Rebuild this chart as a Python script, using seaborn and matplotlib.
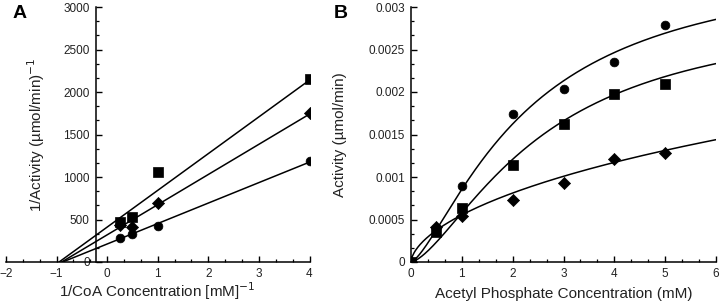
import numpy as np
import pandas as pd
import matplotlib
matplotlib.use("Agg")
import matplotlib.pyplot as plt
from matplotlib.ticker import AutoMinorLocator, FixedLocator, FixedFormatter
import seaborn as sns

sns.set_theme(style="ticks")
plt.rcParams['font.family'] = ['Liberation Sans', 'DejaVu Sans']

# ---------------- Panel A data (double reciprocal) ----------------
a_x = [0.25, 0.5, 1, 4]
a_circle = [286, 325, 425, 1190]
a_diamond = [430, 413, 690, 1755]
a_square = [465, 525, 1058, 2155]
# fitted lines: x-intercept and value at x = 4
a_line_xint = [-0.88, -0.90, -0.95]      # circle, diamond, square
a_line_end = [1175, 1740, 2140]
a_xticks = [-2, -1, 0, 1, 2, 3, 4]
a_yticks = [0, 500, 1000, 1500, 2000, 2500, 3000]

# ---------------- Panel B data (activity vs acetyl phosphate) ----------------
b_x = [0, 0.5, 1, 2, 3, 4, 5]
b_circle = [0, 0.00040, 0.00089, 0.00174, 0.00204, 0.00235, 0.00279]
b_square = [0, 0.00035, 0.00064, 0.00114, 0.00162, 0.00198, 0.00209]
b_diamond = [0, 0.00041, 0.00054, 0.00073, 0.00093, 0.00121, 0.00128]
# Hill fit parameters (Vmax, K, n): circle, square, diamond
b_vmax = [0.0036, 0.0030, 0.0084]
b_k = [2.3, 2.6, 83.0]
b_n = [1.4, 1.5, 0.6]
b_xticks = [0, 1, 2, 3, 4, 5, 6]
b_yticks = [0, 0.0005, 0.001, 0.0015, 0.002, 0.0025, 0.003]
b_yticklabels = ["0", "0.0005", "0.001", "0.0015", "0.002", "0.0025", "0.003"]

markers = {"circle": "o", "square": "s", "diamond": "D"}
sizes = {"circle": 40, "square": 42, "diamond": 38}
txt = "#222222"

fig = plt.figure(figsize=(7.2, 3.04), dpi=100)
W, H = 720, 304
bottom_px, top_px = 262, 7
axA = fig.add_axes([6 / W, (H - bottom_px) / H, 303.5 / W, (bottom_px - top_px) / H])
axB = fig.add_axes([411 / W, (H - bottom_px) / H, 305 / W, (bottom_px - top_px) / H])

# ---- Panel A ----
dfA = pd.DataFrame({
    "x": a_x * 3,
    "y": a_circle + a_diamond + a_square,
    "s": ["circle"] * 4 + ["diamond"] * 4 + ["square"] * 4,
})
for xi, ye in zip(a_line_xint, a_line_end):
    axA.plot([xi, 4], [0, ye], color="black", lw=1.1, zorder=2)
for name in ["circle", "diamond", "square"]:
    sub = dfA[dfA.s == name]
    sns.scatterplot(data=sub, x="x", y="y", marker=markers[name], s=sizes[name],
                    color="black", edgecolor="black", linewidth=0.5, ax=axA, zorder=3, legend=False)
axA.set_xlim(-2, 4)
axA.set_ylim(0, 3000)
axA.xaxis.set_major_locator(FixedLocator(a_xticks))
axA.yaxis.set_major_locator(FixedLocator(a_yticks))
axA.xaxis.set_minor_locator(AutoMinorLocator(3))
axA.yaxis.set_minor_locator(AutoMinorLocator(3))
axA.set_xlabel("1/CoA Concentration [mM]$^{-1}$", fontsize=11, color=txt, labelpad=0)
axA.set_ylabel("1/Activity (\u00b5mol/min)$^{-1}$", fontsize=11, color=txt)
axA.yaxis.set_label_coords((47 - 6) / 303.5, 0.5)
axA.text(20 / W, 1 - 13 / H, "A", transform=fig.transFigure, fontsize=14,
         fontweight="bold", ha="center", va="center", color="black")

# ---- Panel B ----
xs = np.linspace(0, 6, 400)
for vm, k, n in zip(b_vmax, b_k, b_n):
    ys = vm * xs ** n / (k ** n + xs ** n)
    sns.lineplot(x=xs, y=ys, color="black", lw=1.1, ax=axB, zorder=2)
dfB = pd.DataFrame({
    "x": b_x * 3,
    "y": b_circle + b_square + b_diamond,
    "s": ["circle"] * 7 + ["square"] * 7 + ["diamond"] * 7,
})
for name in ["circle", "square", "diamond"]:
    sub = dfB[dfB.s == name]
    sns.scatterplot(data=sub, x="x", y="y", marker=markers[name], s=sizes[name],
                    color="black", edgecolor="black", linewidth=0.5, ax=axB, zorder=3, legend=False)
axB.set_xlim(0, 6)
axB.set_ylim(0, 0.003)
axB.xaxis.set_major_locator(FixedLocator(b_xticks))
axB.yaxis.set_major_locator(FixedLocator(b_yticks))
axB.yaxis.set_major_formatter(FixedFormatter(b_yticklabels))
axB.xaxis.set_minor_locator(AutoMinorLocator(3))
axB.yaxis.set_minor_locator(AutoMinorLocator(3))
axB.set_xlabel("Acetyl Phosphate Concentration (mM)", fontsize=11, color=txt, labelpad=5)
axB.set_ylabel("Activity (\u00b5mol/min)", fontsize=11, color=txt)
axB.yaxis.set_label_coords((347 - 411) / 305, 0.5)
axB.text(341 / W, 1 - 13 / H, "B", transform=fig.transFigure, fontsize=14,
         fontweight="bold", ha="center", va="center", color="black")

for ax in (axA, axB):
    sns.despine(ax=ax)
    if ax is axA:
        ax.spines['left'].set_position(('data', -0.22))
    for sp in ("left", "bottom"):
        ax.spines[sp].set_linewidth(1.1)
        ax.spines[sp].set_color("black")
    ax.tick_params(which="major", direction="in", length=4, width=1.0, color="black",
                   labelsize=8.5, labelcolor=txt, pad=4.5)
    ax.tick_params(which="minor", direction="in", length=2.2, width=0.9, color="black")
    ax.set_facecolor("white")
    ax.patch.set_alpha(0)

fig.savefig("out.png", dpi=100, facecolor="white")
